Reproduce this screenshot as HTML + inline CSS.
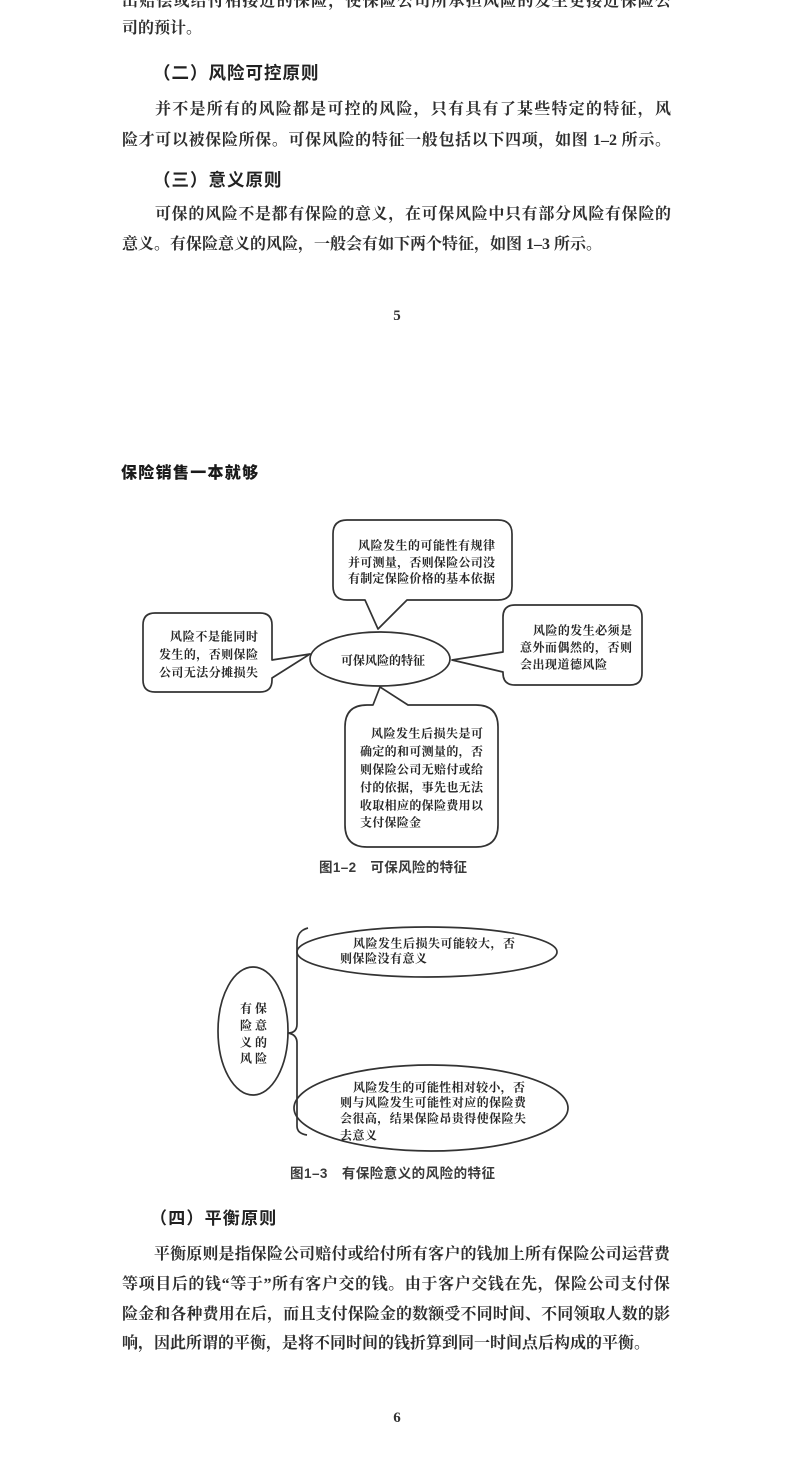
<!DOCTYPE html>
<html>
<head>
<meta charset="utf-8">
<style>
  html,body{margin:0;padding:0;background:#fff;}
  body{width:790px;height:1468px;position:relative;overflow:hidden;}
  .t{position:absolute;font-family:"Liberation Serif","Noto Serif CJK SC",serif;font-size:16px;line-height:20px;color:#2e2e2e;font-weight:bold;white-space:normal;}
  .j{text-align:justify;text-align-last:justify;}
  .l{text-align:left;}
  .h{position:absolute;font-family:"Liberation Sans","Noto Sans CJK SC",sans-serif;font-weight:bold;color:#222;line-height:24px;white-space:nowrap;}
  svg{position:absolute;left:0;top:0;}
  .dt{font-family:"Noto Serif CJK SC","Liberation Serif",serif;font-weight:bold;font-size:12px;fill:#262626;}
  .cap{font-family:"Liberation Sans","Noto Sans CJK SC",sans-serif;font-size:13.5px;fill:#3a3a3a;font-weight:600;}
</style>
</head>
<body>

<!-- Page 5 text -->
<div class="t j" style="left:122px;top:-8px;width:549px;">出赔偿或给付相接近的保险，使保险公司所承担风险的发生更接近保险公</div>
<div class="t l" style="left:122px;top:19px;width:549px;">司的预计。</div>

<div class="h" style="left:153px;top:61px;font-size:17.5px;letter-spacing:1px;">（二）风险可控原则</div>
<div class="t j" style="left:122px;top:100px;width:549px;text-indent:33px;">并不是所有的风险都是可控的风险，只有具有了某些特定的特征，风</div>
<div class="t j" style="left:122px;top:131px;width:549px;">险才可以被保险所保。可保风险的特征一般包括以下四项，如图 1–2 所示。</div>

<div class="h" style="left:153px;top:168px;font-size:17.5px;letter-spacing:1px;">（三）意义原则</div>
<div class="t j" style="left:122px;top:205px;width:549px;text-indent:33px;">可保的风险不是都有保险的意义，在可保风险中只有部分风险有保险的</div>
<div class="t l" style="left:122px;top:235px;width:549px;">意义。有保险意义的风险，一般会有如下两个特征，如图 1–3 所示。</div>

<!-- Page 6 header -->
<div class="h" style="left:121px;top:462px;font-size:16px;letter-spacing:1.3px;color:#1a1a1a;font-weight:900;">保险销售一本就够</div>

<!-- Page 6 text -->
<div class="h" style="left:150px;top:1207px;font-size:17px;letter-spacing:1.2px;">（四）平衡原则</div>
<div class="t j" style="left:122px;top:1245px;width:548px;text-indent:32px;">平衡原则是指保险公司赔付或给付所有客户的钱加上所有保险公司运营费</div>
<div class="t j" style="left:122px;top:1275px;width:548px;">等项目后的钱“等于”所有客户交的钱。由于客户交钱在先，保险公司支付保</div>
<div class="t j" style="left:122px;top:1305px;width:548px;">险金和各种费用在后，而且支付保险金的数额受不同时间、不同领取人数的影</div>
<div class="t l" style="left:122px;top:1334px;width:548px;">响，因此所谓的平衡，是将不同时间的钱折算到同一时间点后构成的平衡。</div>

<svg width="790" height="1468" viewBox="0 0 790 1468" xmlns="http://www.w3.org/2000/svg">
  <!-- page numbers -->
  <text x="397" y="320" text-anchor="middle" style="font-family:'Liberation Serif',serif;font-weight:bold;font-size:15px;fill:#333;">5</text>
  <text x="397" y="1422" text-anchor="middle" style="font-family:'Liberation Serif',serif;font-weight:bold;font-size:15px;fill:#333;">6</text>

  <g fill="#fff" stroke="#333" stroke-width="1.7" stroke-linejoin="round">
    <!-- Figure 1-2 -->
    <path d="M347,520 H498 Q512,520 512,534 V586 Q512,600 498,600 H407 L378,629 L365,600 H347 Q333,600 333,586 V534 Q333,520 347,520 Z"/>
    <path d="M155,613 H260 Q272,613 272,625 V660 L310,654 L272,678 V680 Q272,692 260,692 H155 Q143,692 143,680 V625 Q143,613 155,613 Z"/>
    <path d="M515,605 H630 Q642,605 642,617 V673 Q642,685 630,685 H515 Q503,685 503,673 V672 L452,660 L503,652 V617 Q503,605 515,605 Z"/>
    <ellipse cx="380" cy="659" rx="70" ry="27"/>
    <path d="M367,705 L373,705 L380,687 L408,705 L476,705 Q498,705 498,727 L498,825 Q498,847 476,847 L367,847 Q345,847 345,825 L345,727 Q345,705 367,705 Z"/>

    <!-- Figure 1-3 -->
    <ellipse cx="253" cy="1031" rx="35" ry="64"/>
    <ellipse cx="427" cy="952" rx="130" ry="25"/>
    <ellipse cx="431" cy="1108" rx="137" ry="43"/>
  </g>
  <path d="M308,928 C300,930 297,935 297,943 L297,1024 C297,1030 294,1033 288,1033 C294,1034 297,1037 297,1043 L297,1126 C297,1131 300,1134 307,1135" fill="none" stroke="#333" stroke-width="1.7"/>

  <!-- Figure 1-2 text -->
  <text class="dt" x="358" y="549.5" textLength="137" lengthAdjust="spacing">风险发生的可能性有规律</text>
  <text class="dt" x="348" y="566.5" textLength="147" lengthAdjust="spacing">并可测量，否则保险公司没</text>
  <text class="dt" x="348" y="582.5" textLength="147" lengthAdjust="spacing">有制定保险价格的基本依据</text>

  <text class="dt" x="170" y="640.5" textLength="88" lengthAdjust="spacing">风险不是能同时</text>
  <text class="dt" x="159" y="658.5" textLength="99" lengthAdjust="spacing">发生的，否则保险</text>
  <text class="dt" x="159" y="676.5" textLength="99" lengthAdjust="spacing">公司无法分摊损失</text>

  <text class="dt" x="533" y="634.5" textLength="99" lengthAdjust="spacing">风险的发生必须是</text>
  <text class="dt" x="520" y="651.5" textLength="112" lengthAdjust="spacing">意外而偶然的，否则</text>
  <text class="dt" x="520" y="668.5" textLength="87" lengthAdjust="spacing">会出现道德风险</text>

  <text class="dt" x="341" y="664.5" textLength="84" lengthAdjust="spacing">可保风险的特征</text>

  <text class="dt" x="371" y="737.5" textLength="112" lengthAdjust="spacing">风险发生后损失是可</text>
  <text class="dt" x="360" y="755.5" textLength="123" lengthAdjust="spacing">确定的和可测量的，否</text>
  <text class="dt" x="360" y="773.5" textLength="123" lengthAdjust="spacing">则保险公司无赔付或给</text>
  <text class="dt" x="360" y="791.5" textLength="123" lengthAdjust="spacing">付的依据，事先也无法</text>
  <text class="dt" x="360" y="809.5" textLength="123" lengthAdjust="spacing">收取相应的保险费用以</text>
  <text class="dt" x="360" y="826.5" textLength="61" lengthAdjust="spacing">支付保险金</text>

  <text class="cap" x="319" y="872" textLength="148" lengthAdjust="spacing">图1–2　可保风险的特征</text>

  <!-- Figure 1-3 text -->
  <text class="dt" x="240" y="1012.5" textLength="27" lengthAdjust="spacing">有保</text>
  <text class="dt" x="240" y="1029.5" textLength="27" lengthAdjust="spacing">险意</text>
  <text class="dt" x="240" y="1046.5" textLength="27" lengthAdjust="spacing">义的</text>
  <text class="dt" x="240" y="1062.5" textLength="27" lengthAdjust="spacing">风险</text>

  <text class="dt" x="353" y="947.5" textLength="162" lengthAdjust="spacing">风险发生后损失可能较大，否</text>
  <text class="dt" x="340" y="962.5" textLength="87" lengthAdjust="spacing">则保险没有意义</text>

  <text class="dt" x="353" y="1091.5" textLength="172" lengthAdjust="spacing">风险发生的可能性相对较小，否</text>
  <text class="dt" x="340" y="1106.5" textLength="186" lengthAdjust="spacing">则与风险发生可能性对应的保险费</text>
  <text class="dt" x="340" y="1122.5" textLength="186" lengthAdjust="spacing">会很高，结果保险昂贵得使保险失</text>
  <text class="dt" x="340" y="1139.5" textLength="37" lengthAdjust="spacing">去意义</text>

  <text class="cap" x="290" y="1178" textLength="205" lengthAdjust="spacing">图1–3　有保险意义的风险的特征</text>
</svg>

</body>
</html>
